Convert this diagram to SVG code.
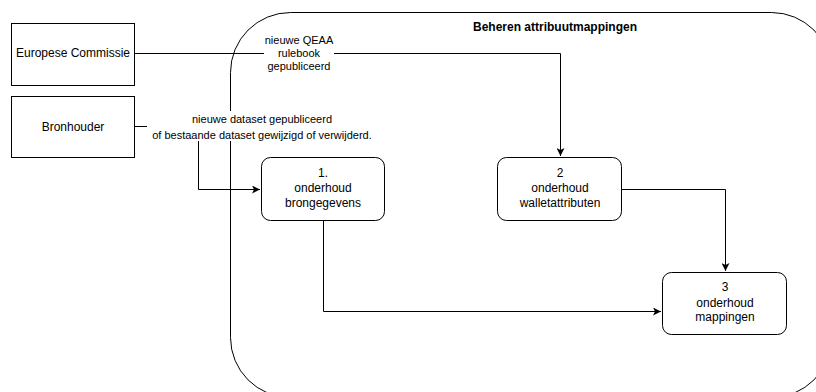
<svg xmlns="http://www.w3.org/2000/svg" width="816" height="392" viewBox="0 0 816 392">
<style>
text{font-family:"Liberation Sans",Arial,sans-serif;fill:#000;text-anchor:middle}
.n{font-size:12px}
.l{font-size:11px}
.t{font-size:12px;font-weight:bold}
.box{fill:#fff;stroke:#000;stroke-width:1}
.e{fill:none;stroke:#000;stroke-width:1}
</style>
<defs>
<marker id="arr" viewBox="0 0 10 10" refX="10" refY="5" markerWidth="8" markerHeight="8" markerUnits="userSpaceOnUse" orient="auto">
<path d="M0,0 L10,5 L0,10 L2.5,5 Z" fill="#000"/>
</marker>
</defs>
<g id="container">
<rect x="230.5" y="12.5" width="601" height="385" rx="60" ry="60" fill="#fff" stroke="#000"/>
<text class="t" x="555" y="31">Beheren attribuutmappingen</text>
</g>
<g id="connectors">
<path class="e" d="M135,53.5 H560.5 V156" marker-end="url(#arr)"/>
<path class="e" d="M135,126.5 H198.5 V189.5 H260" marker-end="url(#arr)"/>
<path class="e" d="M622,189.5 H725.5 V271" marker-end="url(#arr)"/>
<path class="e" d="M323.5,220 V311.5 H661" marker-end="url(#arr)"/>
<g id="label-qeaa">
<rect x="264" y="33" width="70" height="40" fill="#fff"/>
<text class="l" x="299" y="44">nieuwe QEAA</text>
<text class="l" x="299" y="57">rulebook</text>
<text class="l" x="299" y="70">gepubliceerd</text>
</g>
<g id="label-dataset">
<rect x="147" y="111" width="232" height="30" fill="#fff"/>
<text class="l" x="262" y="123">nieuwe dataset gepubliceerd</text>
<text class="l" x="262" y="139">of bestaande dataset gewijzigd of verwijderd.</text>
</g>
</g>
<g id="europese-commissie">
<rect class="box" x="11.5" y="23.5" width="123" height="62"/>
<text class="n" x="73" y="57">Europese Commissie</text>
</g>
<g id="bronhouder">
<rect class="box" x="11.5" y="96.5" width="123" height="61"/>
<text class="n" x="73" y="131">Bronhouder</text>
</g>
<g id="node1">
<rect class="box" x="261.5" y="157.5" width="123" height="63" rx="9"/>
<text class="n" x="323" y="177">1.</text>
<text class="n" x="323" y="192">onderhoud</text>
<text class="n" x="323" y="207">brongegevens</text>
</g>
<g id="node2">
<rect class="box" x="497.5" y="157.5" width="124" height="63" rx="9"/>
<text class="n" x="560" y="177">2</text>
<text class="n" x="560" y="192">onderhoud</text>
<text class="n" x="560" y="207">walletattributen</text>
</g>
<g id="node3">
<rect class="box" x="662.5" y="272.5" width="124" height="62" rx="9"/>
<text class="n" x="725" y="291">3</text>
<text class="n" x="725" y="307">onderhoud</text>
<text class="n" x="725" y="321">mappingen</text>
</g>
</svg>
